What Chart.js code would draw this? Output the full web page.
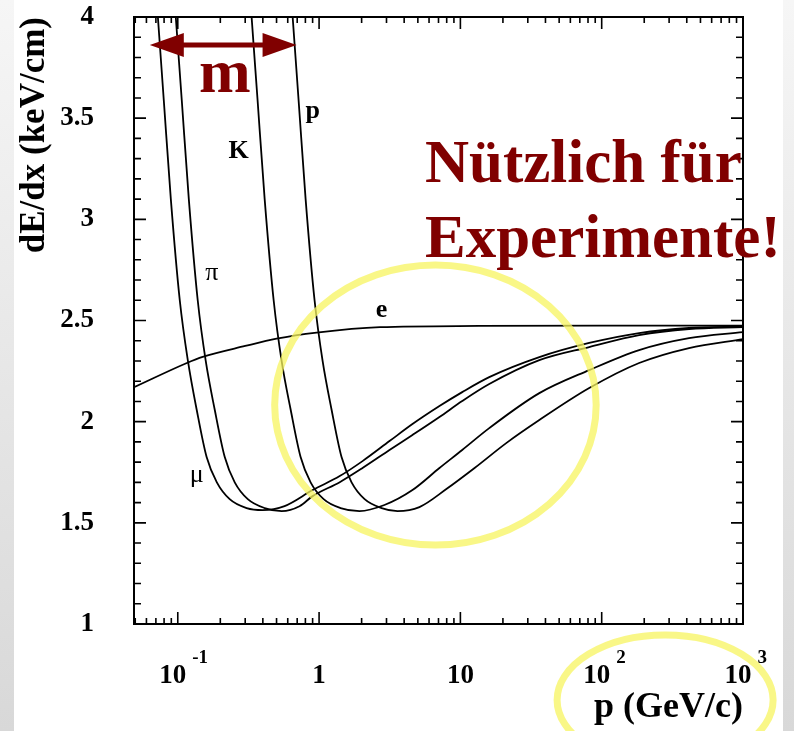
<!DOCTYPE html>
<html>
<head>
<meta charset="utf-8">
<script src="https://cdn.jsdelivr.net/npm/chart.js@4.4.1/dist/chart.umd.min.js"></script>
<style>
  html, body { margin: 0; padding: 0; background: #fff; }
  #wrap { position: relative; width: 794px; height: 731px; overflow: hidden; }
  .strip { position: absolute; top: 0; height: 731px; background: linear-gradient(#f6f6f6, #d8d8d8); }
  canvas { position: absolute; left: 0; top: 0; }
</style>
</head>
<body>
<div id="wrap">
  <div class="strip" style="left:0;width:14px"></div>
  <div class="strip" style="left:783px;width:11px"></div>
  <canvas id="myCanvas" width="794" height="731"></canvas>
</div>
<script>
// momentum p (GeV/c) and dE/dx (keV/cm)
const eP     = [0.049, 0.116, 0.15, 0.3, 0.5, 0.96, 2.7, 13.5, 100, 1000];
const eDEdx  = [2.17, 2.29, 2.32, 2.374, 2.41, 2.44, 2.467, 2.473, 2.475, 2.475];

const muP    = [0.0655, 0.0723, 0.0796, 0.0893, 0.1033, 0.118, 0.136, 0.160, 0.189, 0.233, 0.307, 0.399, 0.570, 0.90, 1.40, 2.03, 3.15, 4.58, 7.11, 10.3, 16.0, 36.2, 81.6, 184, 415, 1000];
const muDEdx = [4.42, 4.00, 3.59, 3.10, 2.60, 2.30, 2.06, 1.825, 1.70, 1.617, 1.573, 1.563, 1.583, 1.662, 1.731, 1.805, 1.904, 1.988, 2.077, 2.146, 2.22, 2.319, 2.389, 2.438, 2.463, 2.47];

const piP    = [0.0878, 0.0968, 0.1067, 0.1197, 0.1384, 0.1577, 0.1825, 0.215, 0.253, 0.313, 0.412, 0.543, 0.727, 0.90, 1.40, 2.03, 3.15, 4.58, 7.11, 10.3, 16.0, 36.2, 81.6, 184, 415, 1000];
const piDEdx = [4.42, 4.00, 3.59, 3.10, 2.60, 2.30, 2.06, 1.825, 1.70, 1.617, 1.573, 1.558, 1.582, 1.632, 1.701, 1.771, 1.86, 1.934, 2.023, 2.102, 2.186, 2.304, 2.369, 2.428, 2.458, 2.468];

const kP     = [0.303, 0.333, 0.367, 0.412, 0.477, 0.543, 0.629, 0.740, 0.871, 1.077, 1.419, 1.93, 2.90, 4.58, 7.11, 10.3, 16.0, 36.2, 81.6, 184, 415, 1000];
const kDEdx  = [4.42, 4.00, 3.59, 3.10, 2.60, 2.30, 2.06, 1.825, 1.70, 1.617, 1.573, 1.558, 1.588, 1.662, 1.771, 1.860, 1.968, 2.141, 2.255, 2.354, 2.413, 2.443];

const protP    = [0.589, 0.650, 0.716, 0.803, 0.929, 1.059, 1.225, 1.442, 1.698, 2.10, 2.77, 3.59, 5.13, 7.96, 12.6, 21.1, 36.2, 81.6, 184, 415, 1000];
const protDEdx = [4.42, 4.00, 3.59, 3.10, 2.60, 2.30, 2.06, 1.825, 1.70, 1.617, 1.573, 1.558, 1.578, 1.667, 1.771, 1.894, 2.008, 2.166, 2.29, 2.364, 2.408];

// axis ticks
const xTicks    = [0.1, 1, 10, 100, 1000];
const xTickBase = ['10', '1', '10', '10', '10'];
const xTickExp  = ['-1', '', '', '2', '3'];

// curve names and where they sit
const curveNames     = ['p', 'K', 'π', 'μ', 'e'];
const curveLabelP    = [0.90, 0.270, 0.174, 0.136, 2.77];
const curveLabelDEdx = [3.50, 3.303, 2.70, 1.701, 2.517];
const curveLabelBold = [true, true, false, false, true];

const SERIF = "'Liberation Serif', 'Times New Roman', serif";
const MAROON = '#800000';
const YELLOW = 'rgba(247,244,95,0.75)';

const toXY = (ps, vs) => ps.map((p, i) => ({ x: p, y: vs[i] }));

const curve = (label, ps, vs) => ({
  label: label,
  data: toXY(ps, vs),
  borderColor: '#000',
  borderWidth: 1.8,
  pointRadius: 0,
  cubicInterpolationMode: 'monotone',
  fill: false
});

const ellipse = (ctx, cx, cy, rx, ry) => {
  ctx.beginPath();
  ctx.ellipse(cx, cy, rx, ry, 0, 0, Math.PI * 2);
  ctx.stroke();
};

const extras = {
  id: 'extras',
  afterDatasetsDraw(chart) {
    const { ctx, chartArea: a, scales: { x, y } } = chart;
    ctx.save();

    // inward ticks on all four sides
    ctx.strokeStyle = '#000';
    ctx.lineWidth = 1.6;
    ctx.beginPath();
    for (let v = 10; v <= 40; v++) {
      const py = y.getPixelForValue(v / 10);
      const len = v % 5 === 0 ? 12 : 7;
      ctx.moveTo(a.left, py); ctx.lineTo(a.left + len, py);
      ctx.moveTo(a.right, py); ctx.lineTo(a.right - len, py);
    }
    [0.01, 0.1, 1, 10, 100, 1000].forEach(dec => {
      for (let m = 1; m <= 9; m++) {
        const val = dec * m;
        if (val < x.min * 0.999 || val > x.max * 1.001) continue;
        const px = x.getPixelForValue(val);
        const len = m === 1 ? 12 : 6;
        ctx.moveTo(px, a.bottom); ctx.lineTo(px, a.bottom - len);
        ctx.moveTo(px, a.top); ctx.lineTo(px, a.top + len);
      }
    });
    ctx.stroke();

    // frame
    ctx.lineWidth = 2;
    ctx.strokeRect(a.left, a.top, a.right - a.left, a.bottom - a.top);

    // x tick labels with exponents
    ctx.fillStyle = '#000';
    ctx.textBaseline = 'alphabetic';
    xTicks.forEach((t, i) => {
      const px = x.getPixelForValue(t);
      ctx.font = 'bold 27px ' + SERIF;
      ctx.textAlign = 'center';
      if (!xTickExp[i]) {
        ctx.fillText(xTickBase[i], px, a.bottom + 59);
        return;
      }
      const wb = ctx.measureText(xTickBase[i]).width;
      ctx.fillText(xTickBase[i], px - 5, a.bottom + 59);
      ctx.font = 'bold 19px ' + SERIF;
      ctx.textAlign = 'left';
      ctx.fillText(xTickExp[i], px - 5 + wb / 2 + 6, a.bottom + 39);
    });

    // curve names
    ctx.textAlign = 'center';
    curveNames.forEach((n, i) => {
      ctx.font = (curveLabelBold[i] ? 'bold ' : '') + '26px ' + SERIF;
      ctx.fillText(n, x.getPixelForValue(curveLabelP[i]), y.getPixelForValue(curveLabelDEdx[i]));
    });

    // yellow rings
    ctx.strokeStyle = YELLOW;
    ctx.lineWidth = 7;
    const l = x.getPixelForValue(0.485), r = x.getPixelForValue(91.4);
    const tp = y.getPixelForValue(2.774), bt = y.getPixelForValue(1.39);
    ellipse(ctx, (l + r) / 2, (tp + bt) / 2, (r - l) / 2, (bt - tp) / 2);
    ellipse(ctx, x.getPixelForValue(281), a.bottom + 76, 108, 65);

    // mass arrow and "m"
    ctx.fillStyle = MAROON;
    ctx.strokeStyle = MAROON;
    const ay = y.getPixelForValue(3.862);
    const x1 = x.getPixelForValue(0.0634), x2 = x.getPixelForValue(0.693);
    ctx.lineWidth = 5;
    ctx.beginPath();
    ctx.moveTo(x1 + 20, ay); ctx.lineTo(x2 - 20, ay);
    ctx.stroke();
    ctx.beginPath();
    ctx.moveTo(x1, ay); ctx.lineTo(x1 + 34, ay - 12); ctx.lineTo(x1 + 34, ay + 12); ctx.closePath();
    ctx.moveTo(x2, ay); ctx.lineTo(x2 - 34, ay - 12); ctx.lineTo(x2 - 34, ay + 12); ctx.closePath();
    ctx.fill();
    ctx.font = 'bold 62px ' + SERIF;
    ctx.textAlign = 'center';
    ctx.fillText('m', x.getPixelForValue(0.215), y.getPixelForValue(3.629));

    // big remark
    ctx.font = 'bold 61px ' + SERIF;
    ctx.textAlign = 'left';
    ctx.fillText('Nützlich für', 425, 182);
    ctx.fillText('Experimente!', 425, 257);

    ctx.restore();
  }
};

new Chart(document.getElementById('myCanvas'), {
  type: 'line',
  data: {
    datasets: [
      curve('e', eP, eDEdx),
      curve('μ', muP, muDEdx),
      curve('π', piP, piDEdx),
      curve('K', kP, kDEdx),
      curve('p', protP, protDEdx)
    ]
  },
  options: {
    responsive: false,
    animation: false,
    devicePixelRatio: 1,
    layout: { padding: { left: 0, right: 51, top: 17, bottom: 0 } },
    plugins: { legend: { display: false }, tooltip: { enabled: false } },
    scales: {
      x: {
        type: 'logarithmic',
        min: 0.049,
        max: 1000,
        grid: { display: false },
        border: { display: false },
        ticks: { display: false },
        title: {
          display: true,
          text: 'p (GeV/c)',
          align: 'end',
          color: '#000',
          font: { family: SERIF, size: 36, weight: 'bold' },
          padding: { top: 0, bottom: 2 }
        },
        afterFit: (scale) => { scale.height = 107; }
      },
      y: {
        type: 'linear',
        min: 1,
        max: 4,
        grid: { display: false },
        border: { display: false },
        ticks: {
          stepSize: 0.5,
          padding: 32,
          color: '#000',
          font: { family: SERIF, size: 27, weight: 'bold' },
          callback: (v) => String(v)
        },
        title: {
          display: true,
          text: 'dE/dx (keV/cm)',
          align: 'end',
          color: '#000',
          font: { family: SERIF, size: 35, weight: 'bold' },
          padding: { top: 14, bottom: 0 }
        },
        afterFit: (scale) => {
          scale.width = 134;
          scale.paddingTop = 0;
          scale.paddingBottom = 0;
        }
      }
    }
  },
  plugins: [extras]
});
</script>
</body>
</html>
